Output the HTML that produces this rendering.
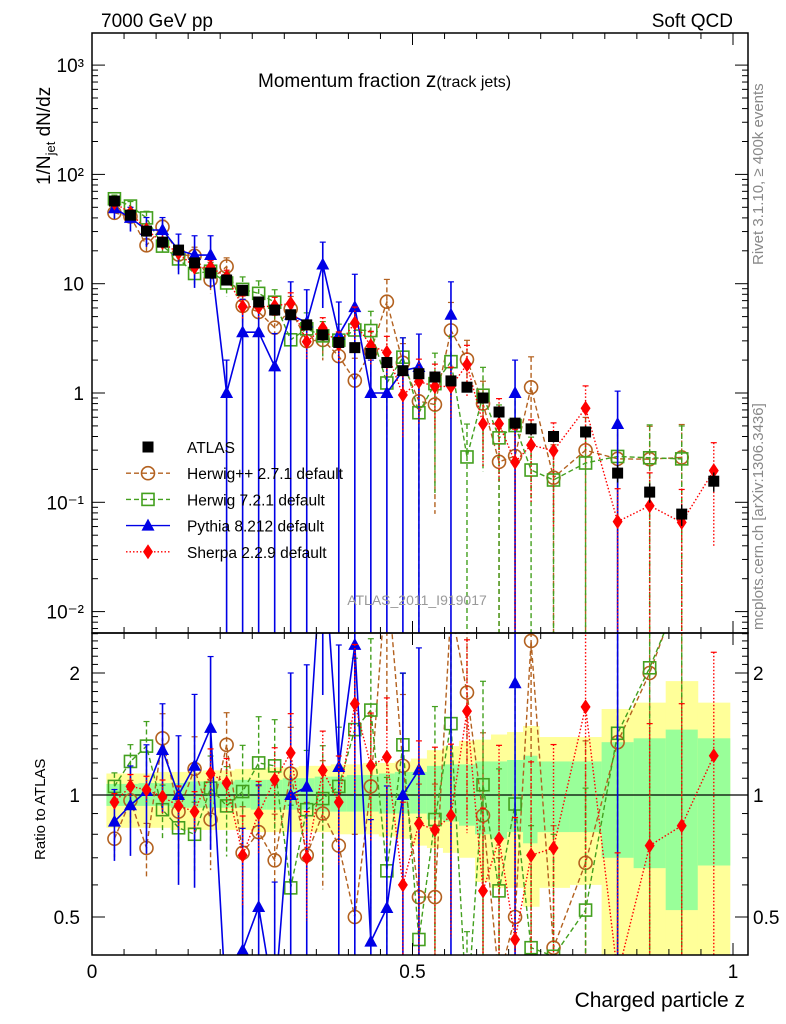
<!DOCTYPE html>
<html><head><meta charset="utf-8"><style>
html,body{margin:0;background:#fff;overflow:hidden;width:786px;height:1024px}
svg{display:block;font-family:"Liberation Sans",sans-serif}
</style></head><body>
<svg id="chart" width="786" height="1024" viewBox="0 0 786 1024" xmlns="http://www.w3.org/2000/svg">
<defs>
<clipPath id="clipMain"><rect x="92" y="33" width="656" height="600"/></clipPath>
<clipPath id="clipRatio"><rect x="92" y="633" width="656" height="322"/></clipPath>
</defs>
<g id="bands" clip-path="url(#clipRatio)"></g>
<g id="mainMarks" clip-path="url(#clipMain)"></g>
<g id="ratioMarks" clip-path="url(#clipRatio)"></g>
<g id="axes"></g>
<text x="101" y="27" font-size="19">7000 GeV pp</text>
<text x="733" y="27" font-size="19" text-anchor="end">Soft QCD</text>
<text x="258" y="87" font-size="19">Momentum fraction <tspan font-size="21">z</tspan><tspan font-size="16">(track jets)</tspan></text>
<text transform="translate(50,185) rotate(-90)" font-size="19">1/N<tspan font-size="13" dy="5">jet</tspan><tspan dy="-5"> dN/dz</tspan></text>
<text transform="translate(45,860) rotate(-90)" font-size="15">Ratio to ATLAS</text>
<text x="745" y="1007" font-size="21" text-anchor="end">Charged particle z</text>
<text transform="translate(763,265) rotate(-90)" font-size="15" fill="#888">Rivet 3.1.10, ≥ 400k events</text>
<text transform="translate(763,630) rotate(-90)" font-size="15" fill="#888">mcplots.cern.ch [arXiv:1306.3436]</text>
<text x="417" y="605" font-size="14" fill="#999" text-anchor="middle">ATLAS_2011_I919017</text>
<g id="legend"></g>
</svg>
<script>
const zCenters=[0.035,0.06,0.085,0.11,0.135,0.16,0.185,0.21,0.235,0.26,0.285,0.31,0.335,0.36,0.385,0.41,0.435,0.46,0.485,0.51,0.535,0.56,0.585,0.61,0.635,0.66,0.685,0.72,0.77,0.82,0.87,0.92,0.97];
const binWidths=[0.025,0.025,0.025,0.025,0.025,0.025,0.025,0.025,0.025,0.025,0.025,0.025,0.025,0.025,0.025,0.025,0.025,0.025,0.025,0.025,0.025,0.025,0.025,0.025,0.025,0.025,0.025,0.05,0.05,0.05,0.05,0.05,0.05];
const atlasValues=[57,42.4,30.3,24,20.3,15.5,12.5,10.8,8.7,6.8,5.74,5.2,4.2,3.4,2.9,2.6,2.3,1.9,1.6,1.5,1.4,1.29,1.13,0.9,0.67,0.53,0.47,0.40,0.44,0.185,0.124,0.078,0.156];
const atlasErr=[0.03,0.03,0.03,0.03,0.04,0.04,0.04,0.05,0.05,0.05,0.06,0.06,0.06,0.07,0.07,0.07,0.08,0.08,0.08,0.09,0.1,0.1,0.1,0.11,0.12,0.12,0.13,0.12,0.13,0.18,0.2,0.22,0.2];
const herwigppRatio=[0.78,0.97,0.74,1.38,0.91,1.16,0.87,1.33,0.72,0.81,0.69,1.13,0.71,0.90,0.75,0.50,1.05,3.6,1.18,0.56,0.56,2.9,1.79,0.89,0.35,0.5,2.4,0.42,0.68,1.35,2.0,3.3,null];
const herwigppErr=[0.1,0.12,0.15,0.15,0.15,0.2,0.25,0.2,0.3,0.3,0.3,0.3,0.35,0.35,0.35,0.6,0.5,0.6,0.5,0.9,0.9,0.8,0.5,0.6,1,1,0.9,1,1,1,1,1,0];
const herwig7Ratio=[1.05,1.21,1.32,0.92,0.83,0.80,1.04,0.94,1.02,1.20,1.18,0.59,0.92,0.98,1.05,1.45,1.62,0.65,1.33,0.44,0.87,1.50,0.23,1.06,0.58,0.95,0.42,0.40,0.52,1.42,2.06,3.2,null];
const herwig7Err=[0.08,0.1,0.15,0.15,0.2,0.2,0.2,0.25,0.3,0.3,0.3,0.6,0.4,0.35,0.4,0.5,0.5,0.7,0.5,1,0.9,0.7,1,0.8,1,1,1,1,1,1,1,1,0];
const pythiaValues=[49,40,31,31,20.3,18.3,18.3,1.0,3.6,3.6,1.75,5.2,4.4,15,3.4,6.1,1.0,1.0,1.6,1.73,null,5.2,null,null,null,1.0,null,null,null,0.52,null,null,null];
const pythiaErr=[0.2,0.25,0.3,0.3,0.4,0.5,0.5,1,1,1,1,1,1,0.6,1,1,1,1,1,1,0,1,0,0,0,1,0,0,0,1,0,0,0];
const sherpaRatio=[0.96,1.05,1.03,0.99,0.94,0.91,1.13,1.07,0.71,0.90,1.09,1.27,0.70,1.15,0.96,1.68,1.18,1.24,0.60,0.85,0.82,0.89,1.61,0.58,0.78,0.44,0.71,0.74,1.65,0.36,0.75,0.84,1.25];
const sherpaErr=[0.05,0.07,0.08,0.1,0.12,0.12,0.15,0.15,0.25,0.2,0.2,0.25,0.3,0.25,0.3,0.4,0.35,0.4,0.6,0.6,0.6,0.5,0.5,0.6,0.7,1,0.7,0.8,0.6,1,1,1,0.8];
const bandYellowUp=[1.13,1.13,1.13,1.14,1.14,1.14,1.15,1.15,1.16,1.16,1.17,1.17,1.18,1.18,1.19,1.19,1.20,1.20,1.21,1.23,1.29,1.32,1.36,1.37,1.41,1.43,1.48,1.39,1.39,1.63,1.69,1.91,1.69];
const bandYellowDn=[0.83,0.83,0.83,0.83,0.82,0.82,0.82,0.82,0.82,0.81,0.81,0.81,0.81,0.81,0.80,0.80,0.80,0.79,0.78,0.75,0.74,0.72,0.70,0.61,0.59,0.59,0.53,0.59,0.60,0.40,0.40,0.40,0.40];
const bandGreenUp=[1.065,1.065,1.07,1.07,1.07,1.08,1.08,1.08,1.09,1.09,1.09,1.1,1.1,1.11,1.11,1.12,1.12,1.13,1.14,1.14,1.18,1.19,1.19,1.21,1.21,1.22,1.25,1.21,1.21,1.35,1.38,1.45,1.38];
const bandGreenDn=[0.94,0.94,0.94,0.94,0.93,0.93,0.93,0.93,0.93,0.92,0.92,0.92,0.92,0.91,0.91,0.91,0.91,0.9,0.9,0.9,0.87,0.86,0.84,0.80,0.78,0.81,0.76,0.81,0.81,0.70,0.66,0.52,0.67];
const logTickLabels=["10³","10²","10","1","10⁻¹","10⁻²"];
const logTickExps=[3,2,1,0,-1,-2];
const ratioTickValues=[2,1,0.5];
const xTickValues=[0,0.5,1];

const NS="http://www.w3.org/2000/svg";
const X=z=>92+641*z;
const YM=v=>Math.min(1015,393-109.3*Math.log10(v));
const YR=r=>Math.min(1015,Math.max(300,795-122*Math.log2(r)));
function el(tag,attrs,parent){const e=document.createElementNS(NS,tag);for(const k in attrs)e.setAttribute(k,attrs[k]);parent.appendChild(e);return e;}
const gB=document.getElementById('bands'),gM=document.getElementById('mainMarks'),gR=document.getElementById('ratioMarks'),gA=document.getElementById('axes'),gL=document.getElementById('legend');

for(let i=0;i<zCenters.length;i++){
  const x0=X(zCenters[i]-binWidths[i]/2),x1=X(zCenters[i]+binWidths[i]/2);
  const ry=el('rect',{x:x0,y:YR(bandYellowUp[i]),width:x1-x0+0.5,height:YR(bandYellowDn[i])-YR(bandYellowUp[i]),fill:'#ffff99'},gB);
  
  
  const rg=el('rect',{x:x0,y:YR(bandGreenUp[i]),width:x1-x0+0.5,height:YR(bandGreenDn[i])-YR(bandGreenUp[i]),fill:'#99ff99'},gB);
  
  
}
const unity=el('line',{x1:92,x2:748,y1:795,y2:795,stroke:'#000','stroke-width':1.3},gB);



function marker(kind,x,y,color,parent){
  let m;
  if(kind==='sq') m=el('rect',{x:x-5.5,y:y-5.5,width:11,height:11,fill:'#000'},parent);
  else if(kind==='osq') m=el('rect',{x:x-6,y:y-6,width:12,height:12,fill:'none',stroke:color,'stroke-width':1.6},parent);
  else if(kind==='circ') m=el('circle',{cx:x,cy:y,r:6.5,fill:'none',stroke:color,'stroke-width':1.6},parent);
  else if(kind==='tri') m=el('polygon',{points:`${x},${y-7} ${x-6.5},${y+5} ${x+6.5},${y+5}`,fill:color},parent);
  else m=el('polygon',{points:`${x},${y-7.5} ${x-5},${y} ${x},${y+7.5} ${x+5},${y}`,fill:color},parent);
  return m;
}
function addLine(name,pts,color,dash,width,parent){
  if(pts.length<2)return;
  const l=el('polyline',{points:pts.join(' '),fill:'none',stroke:color,'stroke-width':width,'stroke-dasharray':dash},parent);
  
  
}
function drawSeries(name,vals,errs,color,dash,kind,Y,bottom,parent,width){
  let pts=[];
  for(let i=0;i<vals.length;i++){
    if(vals[i]==null){addLine(name,pts,color,dash,width,parent);pts=[];continue;}
    pts.push(X(zCenters[i])+','+Y(vals[i]));
  }
  addLine(name,pts,color,dash,width,parent);
  for(let i=0;i<vals.length;i++){
    if(vals[i]==null)continue;
    const x=X(zCenters[i]),v=vals[i],e=errs[i];
    const hi=Y(v*(1+e)),lo=e>=1?bottom:Y(v*(1-e));
    const b=el('line',{x1:x,x2:x,y1:hi,y2:lo,stroke:color,'stroke-width':width,'stroke-dasharray':dash},parent);
    
    
    el('line',{x1:x-3,x2:x+3,y1:hi,y2:hi,stroke:color,'stroke-width':1.2},parent);
    const m=marker(kind,x,Y(v),color,parent);
    
    
  }
}
const hppMain=herwigppRatio.map((r,i)=>r==null?null:r*atlasValues[i]);
const h7Main=herwig7Ratio.map((r,i)=>r==null?null:r*atlasValues[i]);
const shMain=sherpaRatio.map((r,i)=>r*atlasValues[i]);
const pyRatio=pythiaValues.map((v,i)=>v==null?null:v/atlasValues[i]);
const BR='#b3611f',GR='#43a01e',BL='#0000e6',RD='#ff0000';

drawSeries('herwigpp',hppMain,herwigppErr,BR,'5,3','circ',YM,634,gM,1.4);
drawSeries('herwig7',h7Main,herwig7Err,GR,'5,3','osq',YM,634,gM,1.4);
drawSeries('pythia',pythiaValues,pythiaErr,BL,'none','tri',YM,634,gM,1.6);
drawSeries('sherpa',shMain,sherpaErr,RD,'1.5,2','dia',YM,634,gM,1.4);
for(let i=0;i<zCenters.length;i++){
  const x=X(zCenters[i]),v=atlasValues[i],e=atlasErr[i];
  const b=el('line',{x1:x,x2:x,y1:YM(v*(1+e)),y2:YM(v*(1-e)),stroke:'#000','stroke-width':1.4},gM);
  
  
  const m=marker('sq',x,YM(v),'#000',gM);
  
  
}
drawSeries('herwigpp-ratio',herwigppRatio,herwigppErr,BR,'5,3','circ',YR,956,gR,1.4);
drawSeries('herwig7-ratio',herwig7Ratio,herwig7Err,GR,'5,3','osq',YR,956,gR,1.4);
drawSeries('pythia-ratio',pyRatio,pythiaErr,BL,'none','tri',YR,956,gR,1.6);
drawSeries('sherpa-ratio',sherpaRatio,sherpaErr,RD,'1.5,2','dia',YR,956,gR,1.4);

for(const [y,h,n] of [[33,600,'main-plot-frame'],[633,322,'ratio-plot-frame']]){
  const f=el('rect',{x:92,y:y,width:656,height:h,fill:'none',stroke:'#000','stroke-width':1.5},gA);
  
  
}
for(let k=0;k<=20;k++){
  const x=X(k*0.05),L=(k%10===0)?12:6;
  for(const [yt,yb] of [[33,633],[633,955]]){
    el('line',{x1:x,x2:x,y1:yb,y2:yb-L,stroke:'#000','stroke-width':1},gA);
    el('line',{x1:x,x2:x,y1:yt,y2:yt+L,stroke:'#000','stroke-width':1},gA);
  }
}
xTickValues.forEach(v=>{const t=el('text',{x:X(v),y:978,'font-size':19,'text-anchor':'middle'},gA);t.textContent=String(v);});
for(let e=-3;e<=3;e++){for(let m=1;m<=9;m++){const y=393-109.3*Math.log10(m*Math.pow(10,e));if(y<33||y>633)continue;const L=m===1?13:6;
  el('line',{x1:92,x2:92+L,y1:y,y2:y,stroke:'#000'},gA);el('line',{x1:748,x2:748-L,y1:y,y2:y,stroke:'#000'},gA);}}
logTickExps.forEach((e,i)=>{const t=el('text',{x:84,y:393-109.3*e+7,'font-size':19,'text-anchor':'end'},gA);t.textContent=logTickLabels[i];});
const rt=[0.5,0.6,0.7,0.8,0.9,1,1.1,1.2,1.3,1.4,1.5,1.6,1.7,1.8,1.9,2,2.1,2.2,2.3,2.4,2.5];
rt.forEach(r=>{const y=795-122*Math.log2(r);if(y<633||y>955)return;const L=(r===0.5||r===1||r===2)?13:6;
  el('line',{x1:92,x2:92+L,y1:y,y2:y,stroke:'#000'},gA);el('line',{x1:748,x2:748-L,y1:y,y2:y,stroke:'#000'},gA);});
ratioTickValues.forEach(r=>{for(const [x,a] of [[80,'end'],[753,'start']]){const t=el('text',{x:x,y:YR(r)+7,'font-size':19,'text-anchor':a},gA);t.textContent=String(r);}});

const legNames=['ATLAS','Herwig++ 2.7.1 default','Herwig 7.2.1 default','Pythia 8.212 default','Sherpa 2.2.9 default'];
const legKinds=['sq','circ','osq','tri','dia'];
const legColors=['#000',BR,GR,BL,RD];
const legDash=['none','5,3','5,3','none','1.5,2'];
legNames.forEach((n,i)=>{
  const y=447+i*26.2;
  if(i>0){const l=el('line',{x1:126,x2:170,y1:y,y2:y,stroke:legColors[i],'stroke-width':1.4,'stroke-dasharray':legDash[i]},gL);}
  const m=marker(legKinds[i],148,y,legColors[i],gL);
  
  
  const t=el('text',{x:187,y:y+6,'font-size':15.5},gL);
  t.textContent=n;
  
  
});
</script>
</body></html>
